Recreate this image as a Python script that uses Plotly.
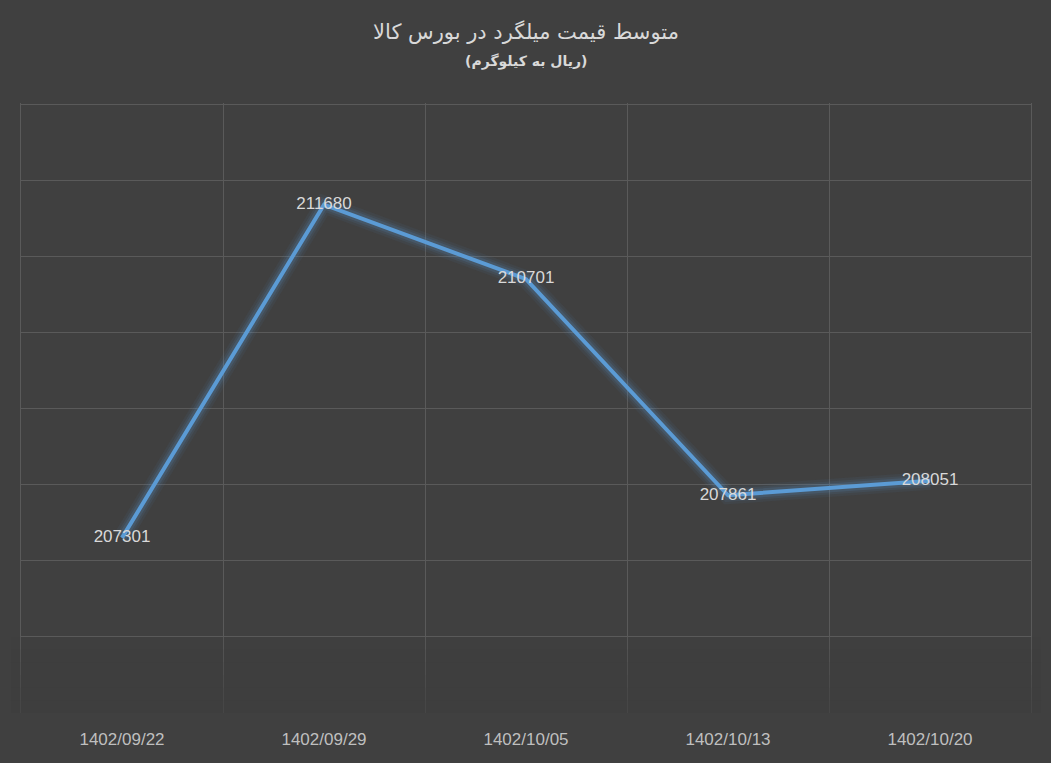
import plotly.graph_objects as go

# data
dates = ["1402/09/22", "1402/09/29", "1402/10/05", "1402/10/13", "1402/10/20"]
prices = [207301, 211680, 210701, 207861, 208051]
price_labels = [str(p) for p in prices]

title_text = "متوسط قیمت میلگرد در بورس کالا"
subtitle_text = "(ریال به کیلوگرم)"

BG = "#404040"
LINE = "#5B9BD5"
GRID = "#5a5a5a"

fig = go.Figure()

# soft glow under the line
for w, a in [(18, 0.06), (13, 0.09), (9, 0.14)]:
    fig.add_trace(go.Scatter(
        x=dates, y=prices, mode="lines",
        line=dict(color=f"rgba(91,155,213,{a})", width=w),
        hoverinfo="skip", showlegend=False,
    ))

fig.add_trace(go.Scatter(
    x=dates, y=prices, mode="lines+text",
    line=dict(color=LINE, width=4),
    text=price_labels, textposition="middle center",
    textfont=dict(family="Liberation Sans, Arial", size=17, color="#d9d9d9"),
    showlegend=False,
))

# gridlines fade out towards the bottom of the plot
steps = 6
for i in range(steps):
    fig.add_shape(type="rect", xref="paper", yref="paper",
                  x0=-0.01, x1=1.01, y0=0, y1=(76 - i * 76 / steps) / 610,
                  fillcolor=BG, opacity=0.16, line_width=0, layer="above")

plot_h = 763 - 103 - 50

fig.update_layout(
    width=1051, height=763,
    paper_bgcolor=BG, plot_bgcolor=BG,
    margin=dict(l=21, r=20, t=103, b=50),
    font=dict(family="DejaVu Sans", color="#d9d9d9"),
    annotations=[
        dict(text=title_text, x=0.5, y=1 + (103 - 32) / plot_h, xref="paper", yref="paper",
             yanchor="middle", showarrow=False, font=dict(size=21, color="#d9d9d9")),
        dict(text="<b>" + subtitle_text + "</b>", x=0.5, y=1 + (103 - 62) / plot_h,
             xref="paper", yref="paper", yanchor="middle",
             showarrow=False, font=dict(size=14, color="#d9d9d9")),
    ],
)

fig.update_xaxes(
    type="category", tickson="boundaries", showgrid=True,
    gridcolor=GRID, gridwidth=1, range=[-0.5, 4.5],
    showline=False, zeroline=False, ticks="",
    tickfont=dict(family="Liberation Sans, Arial", size=17, color="#bfbfbf"),
    ticklabelstandoff=14,
)
fig.update_yaxes(
    range=[205000, 213015],
    tickvals=[206000, 207000, 208000, 209000, 210000, 211000, 212000, 213000],
    showgrid=True, gridcolor=GRID, gridwidth=1,
    showticklabels=False, zeroline=False,
    showline=True, mirror=True, linecolor=GRID, linewidth=1,
)

fig.write_html(
    "out.html",
    config={"displayModeBar": False},
    post_script="document.body.style.margin='0';document.body.style.background='#404040';",
)
